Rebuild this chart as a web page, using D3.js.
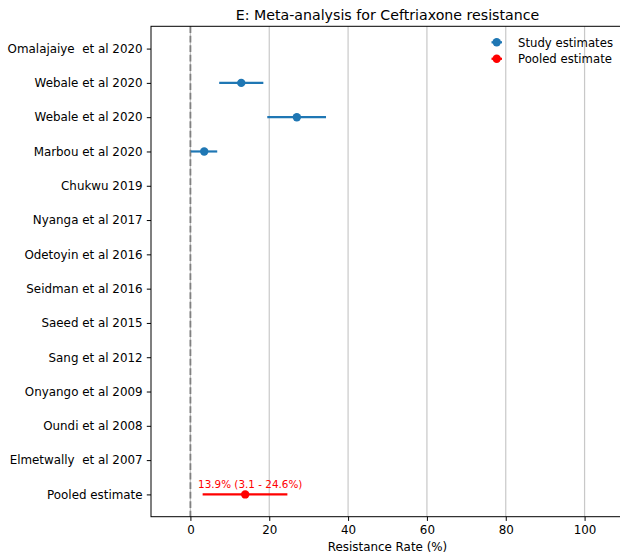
<!DOCTYPE html>
<html>
<head>
<meta charset="utf-8">
<script src="https://cdn.jsdelivr.net/npm/d3@7"></script>
<style>
  html, body { margin: 0; padding: 0; background: #fff; }
  svg { display: block; font-family: "DejaVu Sans", sans-serif; }
  svg text { white-space: pre; }
</style>
</head>
<body>
<svg id="chart" width="620" height="555"></svg>
<script>
// Study labels, top to bottom
const studies = [
  "Omalajaiye  et al 2020", "Webale et al 2020", "Webale et al 2020",
  "Marbou et al 2020", "Chukwu 2019", "Nyanga et al 2017",
  "Odetoyin et al 2016", "Seidman et al 2016", "Saeed et al 2015",
  "Sang et al 2012", "Onyango et al 2009", "Oundi et al 2008",
  "Elmetwally  et al 2007"
];
// Resistance estimates (%) with 95% CI; null where no estimate is reported
const estimates = [null, 12.9, 27.0, 3.5, null, null, null, null, null, null, null, null, null];
const ciLow     = [null, 7.3, 19.5, 0.1, null, null, null, null, null, null, null, null, null];
const ciHigh    = [null, 18.5, 34.4, 6.8, null, null, null, null, null, null, null, null, null];

// Pooled random-effects estimate
const pooledLabel = "Pooled estimate";
const pooled = { est: 13.9, low: 3.1, high: 24.6 };

const xTicks = [0, 20, 40, 60, 80, 100];
const xDomain = [-10, 110];

const blue = "#1f77b4", red = "#ff0000";
const fs = 11.9;

const svg = d3.select("#chart");
const m = { left: 151, top: 26.3, right: 624, bottom: 516.7 };

const rows = studies.concat([pooledLabel]);
const x = d3.scaleLinear().domain(xDomain).range([m.left, m.right]);
const y = d3.scaleLinear().domain([-0.65, rows.length - 1 + 0.65]).range([m.top, m.bottom]);

const plot = svg.append("g");

// vertical grid
plot.selectAll("line.grid").data(xTicks).join("line")
  .attr("class", "grid")
  .attr("x1", d => x(d)).attr("x2", d => x(d))
  .attr("y1", m.top).attr("y2", m.bottom)
  .attr("stroke", "#b0b0b0").attr("stroke-opacity", 0.7).attr("stroke-width", 1.2);

// reference line at zero
plot.append("line")
  .attr("x1", x(0)).attr("x2", x(0)).attr("y1", m.top).attr("y2", m.bottom)
  .attr("stroke", "#808080").attr("stroke-width", 1.8)
  .attr("stroke-dasharray", "6.6,2.9");

// study error bars and points
const studyData = studies.map((s, i) => ({ i, est: estimates[i], low: ciLow[i], high: ciHigh[i] }))
  .filter(d => d.est !== null);

plot.selectAll("line.ci").data(studyData).join("line")
  .attr("class", "ci")
  .attr("x1", d => x(d.low)).attr("x2", d => x(d.high))
  .attr("y1", d => y(d.i)).attr("y2", d => y(d.i))
  .attr("stroke", blue).attr("stroke-width", 2.2);

plot.selectAll("circle.pt").data(studyData).join("circle")
  .attr("class", "pt")
  .attr("cx", d => x(d.est)).attr("cy", d => y(d.i)).attr("r", 4.2)
  .attr("fill", blue);

// pooled estimate
const pi = rows.length - 1;
plot.append("line")
  .attr("x1", x(pooled.low)).attr("x2", x(pooled.high))
  .attr("y1", y(pi)).attr("y2", y(pi))
  .attr("stroke", red).attr("stroke-width", 2.2);
plot.append("circle")
  .attr("cx", x(pooled.est)).attr("cy", y(pi)).attr("r", 4.2).attr("fill", red);
plot.append("text")
  .attr("x", x(pooled.est) + 5).attr("y", y(pi) - 6.5)
  .attr("text-anchor", "middle").attr("font-size", 10.4).attr("fill", red)
  .text(`${pooled.est}% (${pooled.low} - ${pooled.high}%)`);

// axes
const xAxis = d3.axisBottom(x).tickValues(xTicks).tickSize(4.2).tickPadding(4.2).tickFormat(d3.format("d"));
const gx = svg.append("g").attr("transform", `translate(0,${m.bottom})`).call(xAxis);
gx.select(".domain").remove();
gx.selectAll("line").attr("stroke", "#000").attr("stroke-width", 1);
gx.selectAll("text").attr("font-size", fs).attr("font-family", "DejaVu Sans").attr("fill", "#000");

const yAxis = d3.axisLeft(y).tickValues(d3.range(rows.length)).tickFormat(i => rows[i])
  .tickSize(4.2).tickPadding(4.2);
const gy = svg.append("g").attr("transform", `translate(${m.left},0)`).call(yAxis);
gy.select(".domain").remove();
gy.selectAll("line").attr("stroke", "#000").attr("stroke-width", 1);
gy.selectAll("text").attr("font-size", fs).attr("font-family", "DejaVu Sans").attr("fill", "#000");

// spines
svg.append("rect")
  .attr("x", m.left).attr("y", m.top)
  .attr("width", m.right - m.left).attr("height", m.bottom - m.top)
  .attr("fill", "none").attr("stroke", "#000").attr("stroke-width", 1);

// title and axis label
svg.append("text").attr("x", (m.left + m.right) / 2).attr("y", 20)
  .attr("text-anchor", "middle").attr("font-size", 14.2).text("E: Meta-analysis for Ceftriaxone resistance");
svg.append("text").attr("x", (m.left + m.right) / 2).attr("y", 550.5)
  .attr("text-anchor", "middle").attr("font-size", fs).text("Resistance Rate (%)");

// legend
const legend = [
  { label: "Study estimates", color: blue },
  { label: "Pooled estimate", color: red }
];
const lg = svg.append("g");
legend.forEach((d, i) => {
  const ly = 42.3 + i * 16.5;
  lg.append("line").attr("x1", 491.5).attr("x2", 502).attr("y1", ly).attr("y2", ly)
    .attr("stroke", d.color).attr("stroke-width", 2.2);
  lg.append("circle").attr("cx", 496.7).attr("cy", ly).attr("r", 4.2).attr("fill", d.color);
  lg.append("text").attr("x", 518).attr("y", ly + 4.2).attr("font-size", 11.7).text(d.label);
});
</script>
</body>
</html>
